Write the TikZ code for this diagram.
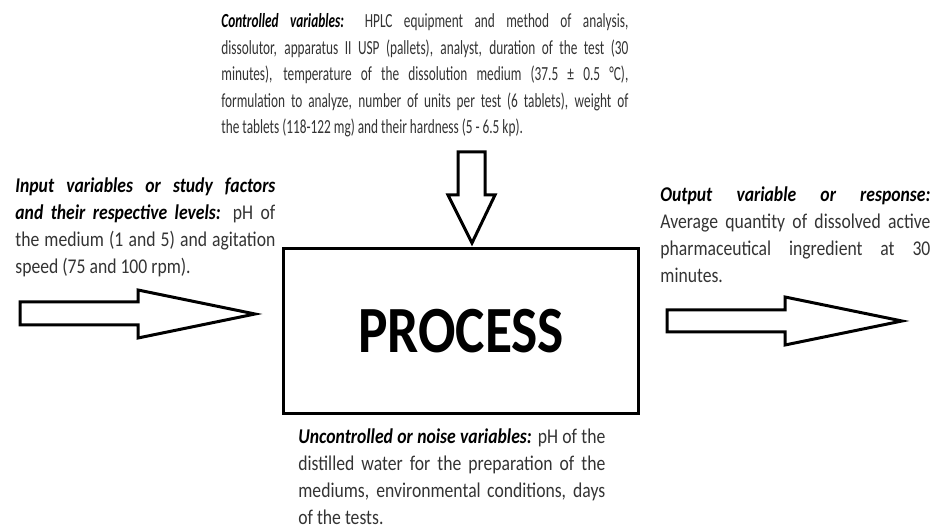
\documentclass[tikz,border=0pt]{standalone}
\usepackage{fontspec}
\setmainfont{Carlito}[FakeStretch=0.84]
\newfontfamily\narrowfont{Carlito}[FakeStretch=0.665]
\usepackage{tikz}
\hyphenpenalty=10000
\exhyphenpenalty=10000

\tikzset{
  blockarrow/.style={draw=black, line width=1.5pt, fill=white},
  vartext/.style={anchor=north west, inner sep=0pt, align=justify, text=black!80,
    font=\fontsize{10.5}{13.6}\selectfont},
}
\newcommand{\vname}[1]{\textcolor{black}{\textbf{\textit{#1}}}}

\begin{document}
\begin{tikzpicture}[x=0.5pt,y=-0.5pt]
  \useasboundingbox (0,0) rectangle (931,528);
  \node[vartext, text width=203.5pt, font=\narrowfont\fontsize{10}{13.3}\selectfont] (controlled) at (221,13) {\vname{Controlled variables:} HPLC equipment and method of analysis,\linebreak
    dissolutor, apparatus II USP (pallets), analyst, duration of the test (30\linebreak
    minutes), temperature of the dissolution medium (37.5 ± 0.5 °C),\linebreak
    formulation to analyze, number of units per test (6 tablets), weight of\linebreak
    the tablets (118-122 mg) and their hardness (5 - 6.5 kp).};
  \node[vartext, text width=130pt] (input) at (15,177) {\vname{Input variables or study factors\linebreak
    and their respective levels:} pH of\linebreak
    the medium (1 and 5) and agitation\linebreak
    speed (75 and 100 rpm).};
  \node[vartext, text width=135pt] (output) at (660,186) {\vname{Output variable or response:}\linebreak
    Average quantity of dissolved active\linebreak
    pharmaceutical ingredient at 30\linebreak
    minutes.};
  \node[vartext, text width=153.5pt] (noise) at (298,428) {\vname{Uncontrolled or noise variables:} pH of the\linebreak
    distilled water for the preparation of the\linebreak
    mediums, environmental conditions, days\linebreak
    of the tests.};
  \node[draw, line width=1.5pt, minimum width=177.5pt, minimum height=82.5pt, inner sep=0pt,
    anchor=north west, font=\fontsize{33}{36}\selectfont\bfseries] (process) at (282,247) {PROCESS};
  % block arrows
  \draw[blockarrow] (458,152) -- (485,152) -- (485,195) -- (495,195) -- (472,243)
    -- (448,195) -- (458,195) -- cycle; %controlled
  \draw[blockarrow] (20,302) -- (138,302) -- (138,290) -- (255,314) -- (138,338)
    -- (138,325) -- (20,325) -- cycle; %input
  \draw[blockarrow] (667,310) -- (785,310) -- (785,297) -- (902,321) -- (785,345)
    -- (785,332) -- (667,332) -- cycle; %output
\end{tikzpicture}
\end{document}
